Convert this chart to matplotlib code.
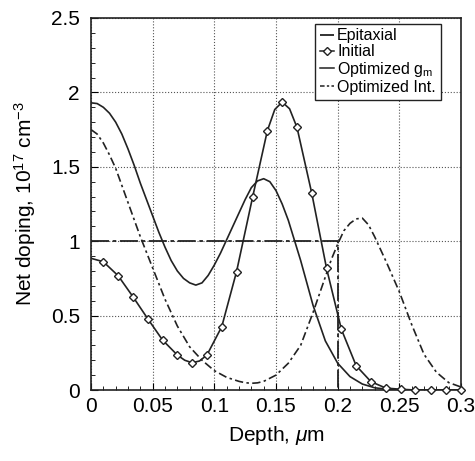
import numpy as np
import matplotlib
matplotlib.use('Agg')
import matplotlib.pyplot as plt
from matplotlib.ticker import MultipleLocator
from matplotlib.lines import Line2D

plt.rcParams['font.family'] = ['Liberation Sans', 'DejaVu Sans']
plt.rcParams['mathtext.fontset'] = 'custom'
plt.rcParams['mathtext.rm'] = 'Liberation Sans'
plt.rcParams['mathtext.it'] = 'Liberation Sans:italic'

# Epitaxial step profile
epi_x = [0.0, 0.2, 0.2]
epi_y = [1.0, 1.0, 0.0]

# Initial profile: marker positions
init_x = [0.010, 0.022, 0.034, 0.046, 0.058, 0.070, 0.082, 0.094, 0.106,
          0.118, 0.131, 0.143, 0.155, 0.167, 0.179, 0.191, 0.203, 0.215,
          0.227, 0.239, 0.251, 0.263, 0.276, 0.288, 0.300]
init_y = [0.862, 0.768, 0.627, 0.479, 0.336, 0.235, 0.183, 0.235, 0.425,
          0.795, 1.295, 1.743, 1.935, 1.765, 1.322, 0.817, 0.408, 0.163,
          0.056, 0.013, 0.005, 0.0, 0.0, 0.0, 0.0]
# Initial profile: line readings (markers plus points in between)
init_line_x = [0.0, 0.010, 0.022, 0.034, 0.046, 0.058, 0.070, 0.076, 0.082,
               0.088, 0.094, 0.106, 0.118, 0.131, 0.143, 0.149, 0.155, 0.161,
               0.167, 0.179, 0.191, 0.203, 0.215, 0.227, 0.239, 0.251, 0.263,
               0.276, 0.288, 0.300]
init_line_y = [0.885, 0.862, 0.768, 0.627, 0.479, 0.336, 0.235, 0.200, 0.183,
               0.195, 0.235, 0.425, 0.795, 1.295, 1.743, 1.885, 1.935, 1.890,
               1.765, 1.322, 0.817, 0.408, 0.163, 0.056, 0.013, 0.005, 0.0,
               0.0, 0.0, 0.0]

# Optimized gm
gm_x = [0.0, 0.005, 0.01, 0.015, 0.02, 0.025, 0.03, 0.035, 0.04, 0.045, 0.05,
        0.055, 0.06, 0.065, 0.07, 0.075, 0.08, 0.085, 0.09, 0.095, 0.10, 0.105,
        0.11, 0.12, 0.125, 0.13, 0.135, 0.14, 0.145, 0.15, 0.155, 0.16, 0.17,
        0.18, 0.19, 0.20, 0.21, 0.22, 0.23, 0.24, 0.25, 0.30]
gm_y = [1.93, 1.925, 1.90, 1.86, 1.80, 1.72, 1.62, 1.51, 1.39, 1.28, 1.17,
        1.06, 0.96, 0.87, 0.80, 0.75, 0.72, 0.705, 0.72, 0.77, 0.84, 0.92,
        1.01, 1.19, 1.28, 1.36, 1.405, 1.42, 1.40, 1.34, 1.25, 1.14, 0.87,
        0.57, 0.33, 0.18, 0.09, 0.04, 0.015, 0.005, 0.0, 0.0]

# Optimized Int.
int_x = [0.0, 0.005, 0.01, 0.015, 0.02, 0.03, 0.04, 0.05, 0.06, 0.07, 0.08,
         0.09, 0.10, 0.11, 0.12, 0.125, 0.13, 0.135, 0.14, 0.15, 0.16, 0.17,
         0.18, 0.19, 0.195, 0.20, 0.205, 0.21, 0.215, 0.22, 0.225, 0.23, 0.24,
         0.25, 0.26, 0.27, 0.28, 0.29, 0.30]
int_y = [1.75, 1.72, 1.66, 1.58, 1.49, 1.26, 1.03, 0.82, 0.61, 0.43, 0.29,
         0.20, 0.13, 0.085, 0.058, 0.049, 0.045, 0.048, 0.058, 0.10, 0.18, 0.30,
         0.52, 0.76, 0.88, 0.98, 1.07, 1.12, 1.15, 1.155, 1.11, 1.03, 0.85,
         0.66, 0.44, 0.24, 0.12, 0.05, 0.02]

xticks = [0.0, 0.05, 0.1, 0.15, 0.2, 0.25, 0.3]
xtick_labels = ['0', '0.05', '0.1', '0.15', '0.2', '0.25', '0.3']
yticks = [0.0, 0.5, 1.0, 1.5, 2.0, 2.5]
ytick_labels = ['0', '0.5', '1', '1.5', '2', '2.5']

col = '#222222'
fig = plt.figure(figsize=(4.75, 4.61), dpi=100)
ax = fig.add_axes([91/475, 71/461, 370/475, 372/461])

ax.plot(epi_x, epi_y, color=col, lw=1.3, dashes=(10, 2, 2, 2))
ax.plot(init_line_x, init_line_y, color=col, lw=1.2)
ax.plot(init_x, init_y, ls='none', marker='D', ms=4, mfc='white',
        mec=col, mew=1.0, clip_on=False, zorder=4)
ax.plot(gm_x, gm_y, color=col, lw=1.2)
ax.plot(int_x, int_y, color=col, lw=1.2, dashes=(5, 2, 1.5, 2))

handles = [
    Line2D([], [], color=col, lw=1.3, dashes=(10, 2, 2, 2)),
    Line2D([], [], color=col, lw=1.1, marker='D', ms=4, mfc='white', mec=col),
    Line2D([], [], color=col, lw=1.1),
    Line2D([], [], color=col, lw=1.1, dashes=(3, 1.5, 1.5, 1.5)),
]
labels = ['Epitaxial', 'Initial', 'Optimized g$_\\mathrm{m}$', 'Optimized Int.']

ax.set_xlim(0, 0.3)
ax.set_ylim(0, 2.5)
ax.set_xticks(xticks)
ax.set_xticklabels(xtick_labels)
ax.set_yticks(yticks)
ax.set_yticklabels(ytick_labels)
ax.xaxis.set_minor_locator(MultipleLocator(0.01))
ax.yaxis.set_minor_locator(MultipleLocator(0.1))
ax.tick_params(which='both', direction='in', labelsize=15)
ax.tick_params(axis='x', pad=5)
ax.tick_params(axis='y', pad=8)
ax.tick_params(which='major', length=5)
ax.tick_params(which='minor', length=3)
ax.grid(True, which='major', color='#555555', ls=':', lw=0.8)
for s in ax.spines.values():
    s.set_color(col)
    s.set_linewidth(1.2)

ax.set_xlabel('Depth, $\\mu$m', fontsize=15, labelpad=6)
ax.set_ylabel('Net doping, 10$^{17}$ cm$^{-3}$', fontsize=15, labelpad=9)

leg = ax.legend(handles, labels, loc='upper right', bbox_to_anchor=(0.945, 0.985),
                borderaxespad=0, fontsize=11.5, handlelength=0.9,
                handletextpad=0.2, labelspacing=0.05, borderpad=0.3,
                fancybox=False, framealpha=1, edgecolor=col)
leg.get_frame().set_linewidth(1.0)

fig.savefig('out.png', dpi=100)
